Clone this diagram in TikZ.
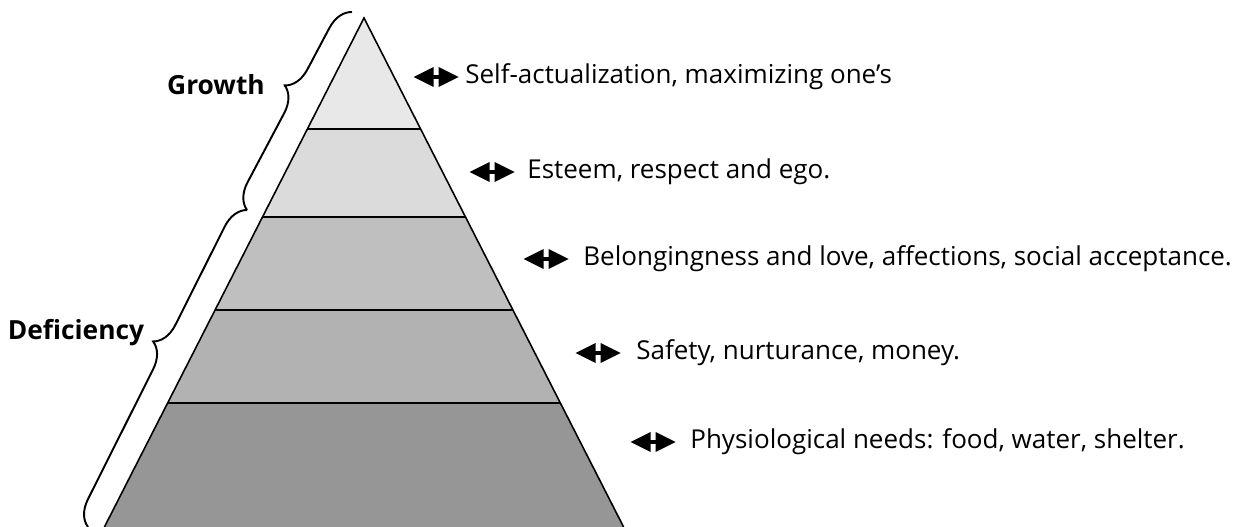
\documentclass[tikz,border=0pt]{standalone}
\usepackage{fontspec}
\setmainfont{Open Sans}
\usetikzlibrary{calc,decorations.pathreplacing}

\tikzset{
  need/.style={anchor=west, inner sep=0pt, font=\fontsize{14.8}{17}\selectfont},
  sidelabel/.style={inner sep=0pt, font=\bfseries\fontsize{15}{17}\selectfont},
  band/.style={draw=black, line width=0.9pt},
  bracket/.style={decorate, line width=1.1pt,
    decoration={brace, amplitude=0.5cm, aspect=#1}},
  bracket/.default=0.55,
  % filled double arrow in front of every need
  twohead/.pic={
    \fill (-22.5,0) -- (-2.5,-10) -- (-2.5,10) -- cycle;
    \fill (22.5,0) -- (2.5,-10) -- (2.5,10) -- cycle;
    \fill (-3,-1.6) rectangle (3,1.6);
  }
}

\begin{document}
\begin{tikzpicture}[x=0.02cm, y=-0.02cm]
  \useasboundingbox (0,0) rectangle (1245,527);

  % the pyramid
  \coordinate (apex) at (364,18);
  \coordinate (bl) at (104.4,527);
  \coordinate (br) at (623.6,527);
  \foreach \t/\n in {0.218/a,0.391/b,0.574/c,0.756/d}{
    \coordinate (l\n) at ($(apex)!\t!(bl)$);
    \coordinate (r\n) at ($(apex)!\t!(br)$);
  }
  \fill[black!9]  (apex) -- (la) -- (ra) -- cycle;
  \fill[black!14] (la) -- (lb) -- (rb) -- (ra) -- cycle;
  \fill[black!25] (lb) -- (lc) -- (rc) -- (rb) -- cycle;
  \fill[black!30] (lc) -- (ld) -- (rd) -- (rc) -- cycle;
  \fill[black!41] (ld) -- (bl) -- (br) -- (rd) -- cycle;
  \draw[band] (bl) -- (apex) -- (br);
  \foreach \n in {a,b,c,d}
    \draw[band] (l\n) -- (r\n);

  % needs
  \node[need] (self)   at (465,77)  {Self-actualization, maximizing one’s};
  \node[need] (esteem) at (527,172) {Esteem, respect and ego.};
  \node[need] (belong) at (583,259) {Belongingness and love, affections, social acceptance.};
  \node[need] (safety) at (636,353) {Safety, nurturance, money.};
  \node[need] (physio) at (690,442) {Physiological needs: food, water, shelter.};
  \foreach \n/\d in {self/-29,esteem/-35,belong/-37,safety/-38,physio/-37}
    \pic at ($(\n.west)+(\d,0)$) {twohead};

  % braces on the left
  \coordinate (gtop) at (352,12);
  \coordinate (gbot) at (247,210);
  \coordinate (dbot) at (88,527);
  \draw[bracket=0.57] (gbot) -- (gtop);
  \draw[bracket] (dbot) -- (gbot);
  \node[sidelabel] (growth) at (216,85) {Growth};
  \node[sidelabel] (deficiency) at (76,333) {Deficiency};
\end{tikzpicture}
\end{document}
